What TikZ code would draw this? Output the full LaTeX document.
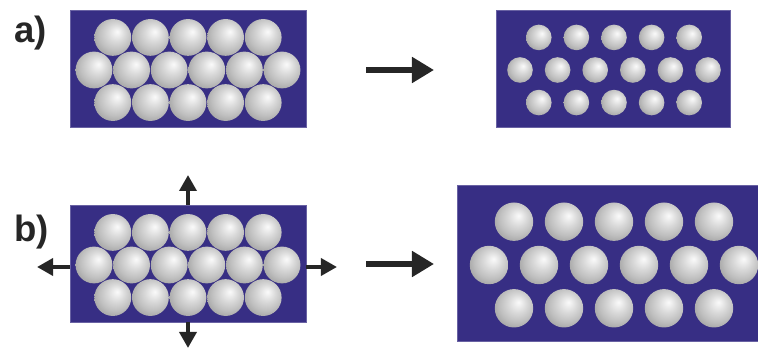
\documentclass[tikz,border=0pt]{standalone}
\usepackage{fontspec}
\setmainfont{Liberation Sans}
\usetikzlibrary{arrows.meta}
\definecolor{substrate}{HTML}{372E84}
\definecolor{ink}{HTML}{262626}
% grey sphere, highlight a bit up and to the right
\pgfdeclareradialshading{sphere}{\pgfpoint{6bp}{8bp}}{%
  color(0bp)=(gray!4); color(3bp)=(gray!10); color(12bp)=(gray!30);
  color(22bp)=(gray!50); color(30bp)=(gray!70); color(38bp)=(gray!88);
  color(50bp)=(gray!88)}
% close packed layer: #1,#2 first sphere of the middle row, #3 spacing, #4 radius
\newcommand{\packing}[4]{%
  \foreach \i in {0,...,5}
    \shade[ballfill] (#1+\i*#3,#2) circle (#4);
  \foreach \i in {0,...,4} {
    \shade[ballfill] (#1+#3/2+\i*#3,#2-0.866*#3) circle (#4);
    \shade[ballfill] (#1+#3/2+\i*#3,#2+0.866*#3) circle (#4);
  }%
}

\begin{document}
\begin{tikzpicture}[x=0.025cm,y=-0.025cm,
    panel/.style={fill=substrate,draw=substrate!75!white,line width=0.4pt},
    ballfill/.style={shading=sphere},
    bigarrow/.style={ink,line width=0.14cm,-{Triangle[length=0.55cm,width=0.62cm]}},
    push/.style={ink,line width=0.1cm,-{Triangle[length=0.4cm,width=0.42cm]}},
    tag/.style={anchor=base west,inner sep=0pt,text=ink,
                font=\fontsize{26}{26}\selectfont\bfseries}]
  \useasboundingbox (0,0) rectangle (758,352);

  % a) dense layer and shrunken spheres
  \node[tag] (label-a) at (14,43) {a)};
  \fill[panel] (70,10) rectangle (306,127);
  \packing{94}{70}{37.6}{18.4}
  \fill[panel] (496,10) rectangle (730,127);
  \packing{520}{70}{37.6}{12.8}
  \coordinate (a-tail) at (366,70);
  \coordinate (a-head) at (434,70);
  \draw[bigarrow] (a-tail) -- (a-head);

  % b) dense layer and stretched substrate
  \node[tag] (label-b) at (14,242) {b)};
  \fill[panel] (70,205) rectangle (306,322);
  \packing{94}{265}{37.6}{18.4}
  \fill[panel] (457,185) rectangle (758,341);
  \packing{489}{265}{50}{19.2}
  \coordinate (b-tail) at (366,264);
  \coordinate (b-head) at (434,264);
  \draw[bigarrow] (b-tail) -- (b-head);

  % stretching directions
  \coordinate (up-foot) at (188,205);    \coordinate (up-tip) at (188,175);
  \coordinate (down-foot) at (188,322);  \coordinate (down-tip) at (188,348);
  \coordinate (left-foot) at (70,267);   \coordinate (left-tip) at (37,267);
  \coordinate (right-foot) at (306,267); \coordinate (right-tip) at (337,267);
  \draw[push] (up-foot) -- (up-tip);
  \draw[push] (down-foot) -- (down-tip);
  \draw[push] (left-foot) -- (left-tip);
  \draw[push] (right-foot) -- (right-tip);
\end{tikzpicture}
\end{document}
